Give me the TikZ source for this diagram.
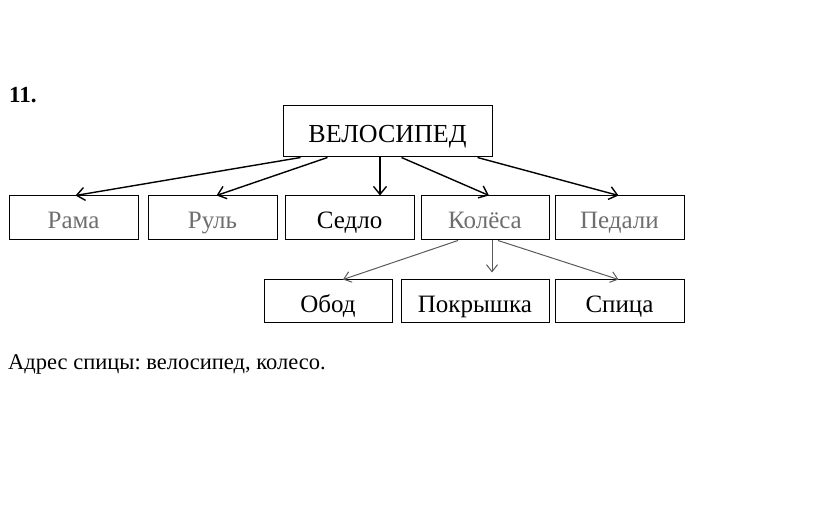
\documentclass[tikz,border=0pt]{standalone}
\usepackage{fontspec}
\setmainfont{Liberation Serif}
\usepackage{xcolor}
\usepackage{tikz}
\usetikzlibrary{arrows.meta, positioning}
\definecolor{fadedtext}{RGB}{110,110,110}
\definecolor{fadedline}{RGB}{90,90,90}
\frenchspacing

\begin{document}
\begin{tikzpicture}[
    x=1pt, y=-1pt,
    part/.style={draw, line width=1pt, minimum width=#1, minimum height=44pt, inner sep=0pt, text height=22pt, text depth=0pt, font=\fontsize{25}{28}\selectfont},
    part/.default=129pt,
    arrow/.style={-{Straight Barb[length=8pt, width=13pt]}, line width=1.4pt},
    subarrow/.style={-{Straight Barb[length=7pt, width=11pt]}, line width=1pt, fadedline}
]
    \useasboundingbox (0,0) rectangle (823,513);
    \node[font=\bfseries\fontsize{23}{26}\selectfont, anchor=base west, inner sep=0pt] (num) at (9,103) {11.};

    \node[part=209pt, minimum height=51pt, font=\fontsize{26}{28}\selectfont] (bike) at (387.5,131.5) {ВЕЛОСИПЕД};
    \node[part, text=fadedtext] (frame) at (73.5,218) {Рама};
    \node[part, text=fadedtext] (bar) at (212.5,218) {Руль};
    \node[part] (seat) at (349.5,218) {Седло};
    \node[part=128pt, text=fadedtext] (wheels) at (485,218) {Колёса};
    \node[part, text=fadedtext] (pedals) at (619.5,218) {Педали};
    \node[part=128pt, minimum height=43pt] (rim) at (328,301.5) {Обод};
    \node[part=148pt, minimum height=43pt] (tyre) at (475,301.5) {Покрышка};
    \node[part, minimum height=43pt] (spoke) at (619.5,301.5) {Спица};

    \draw[arrow] ([xshift=-87pt]bike.south) -- ([xshift=2pt]frame.north);
    \draw[arrow] ([xshift=-60pt]bike.south) -- ([xshift=4pt]bar.north);
    \draw[arrow] ([xshift=-7.5pt]bike.south) -- ([xshift=30.5pt]seat.north);
    \draw[arrow] ([xshift=14pt]bike.south) -- ([xshift=4pt]wheels.north);
    \draw[arrow] ([xshift=90pt]bike.south) -- ([xshift=-1pt]pedals.north);

    \draw[subarrow] ([xshift=-27pt]wheels.south) -- ([xshift=15pt]rim.north);
    \draw[subarrow] ([xshift=7pt]wheels.south) -- ([xshift=17pt, yshift=7pt]tyre.north);
    \draw[subarrow] ([xshift=13pt]wheels.south) -- ([xshift=-1pt]spoke.north);

    \node[anchor=base west, inner sep=0pt, font=\fontsize{22.5}{26}\selectfont] (address) at (8,370) {Адрес спицы: велосипед, колесо.};
\end{tikzpicture}
\end{document}
